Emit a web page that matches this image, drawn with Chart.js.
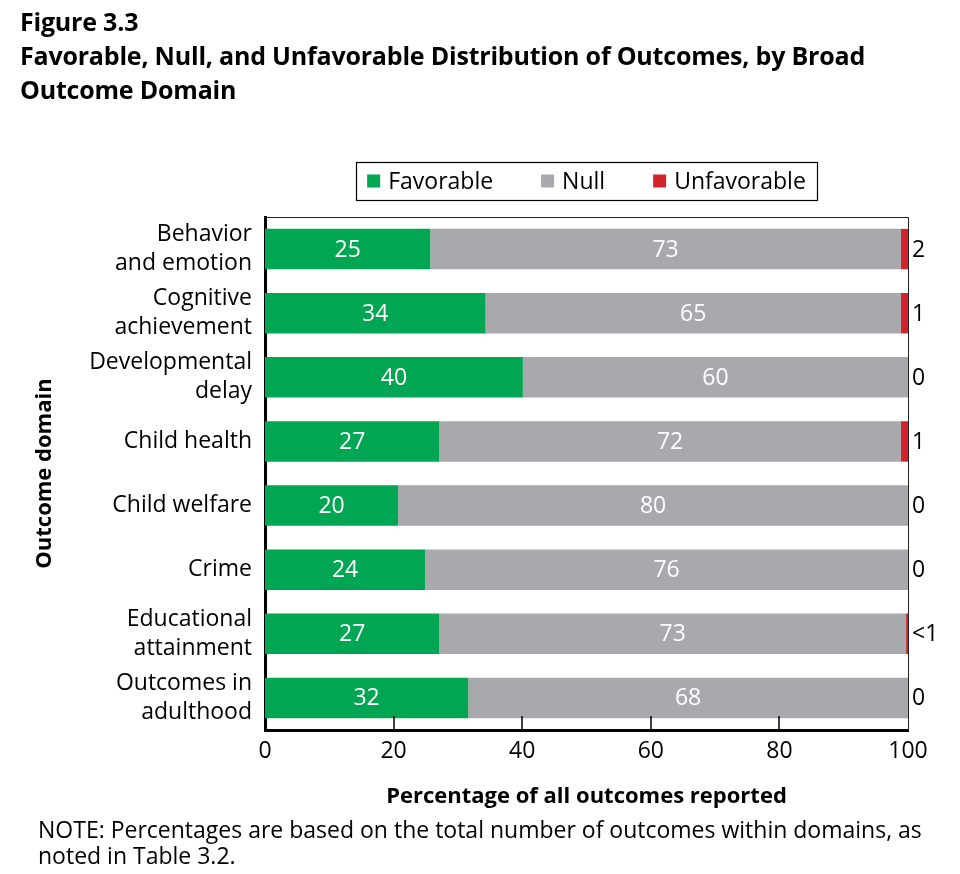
<!DOCTYPE html>
<html>
<head>
<meta charset="utf-8">
<script src="https://cdn.jsdelivr.net/npm/chart.js@4.4.1/dist/chart.umd.min.js"></script>
<style>
  body { margin: 0; background: #fff; font-family: "Open Sans", sans-serif; color: #000; }
  #wrap { position: relative; width: 960px; height: 874px; overflow: hidden; }
  #chart { position: absolute; left: 0; top: 0; }
  .title { position: absolute; left: 20px; top: 4px; font-weight: bold; font-size: 25px; line-height: 34px; letter-spacing: -0.2px; }
  .note { position: absolute; left: 38px; top: 816px; font-size: 23px; line-height: 26px; }
</style>
</head>
<body>
<div id="wrap">
  <canvas id="chart" width="960" height="874"></canvas>
  <div class="title">Figure 3.3<br>Favorable, Null, and Unfavorable Distribution of Outcomes, by Broad<br>Outcome Domain</div>
  <div class="note">NOTE: Percentages are based on the total number of outcomes within domains, as<br>noted in Table 3.2.</div>
</div>
<script>
const domains = [
  ["Behavior", "and emotion"],
  ["Cognitive", "achievement"],
  ["Developmental", "delay"],
  "Child health",
  "Child welfare",
  "Crime",
  ["Educational", "attainment"],
  ["Outcomes in", "adulthood"]
];
const favorable = [25.7, 34.3, 40.1, 27.1, 20.7, 24.9, 27.1, 31.6];
const nullShare = [73.2, 64.6, 59.9, 71.8, 79.3, 75.1, 72.6, 68.4];
const unfavorable = [1.1, 1.1, 0, 1.1, 0, 0, 0.3, 0];
const favorableLabels = ["25", "34", "40", "27", "20", "24", "27", "32"];
const nullLabels = ["73", "65", "60", "72", "80", "76", "73", "68"];
const unfavorableLabels = ["2", "1", "0", "1", "0", "0", "<1", "0"];
const xTickValues = [0, 20, 40, 60, 80, 100];

const FONT = '"Open Sans", sans-serif';
const GREEN = "#00a651";
const GRAY = "#a7a9ac";
const RED = "#d2232a";

// value labels: white inside the bars, black beside the plot for unfavorable
const valueLabels = {
  id: "valueLabels",
  afterDatasetsDraw(chart) {
    const { ctx, chartArea } = chart;
    ctx.save();
    ctx.font = `23px ${FONT}`;
    ctx.textBaseline = "middle";
    [favorableLabels, nullLabels].forEach((labels, d) => {
      chart.getDatasetMeta(d).data.forEach((bar, i) => {
        ctx.fillStyle = "#fff";
        ctx.textAlign = "center";
        ctx.fillText(labels[i], (bar.x + bar.base) / 2, bar.y + 1);
      });
    });
    chart.getDatasetMeta(2).data.forEach((bar, i) => {
      ctx.fillStyle = "#000";
      ctx.textAlign = "left";
      ctx.fillText(unfavorableLabels[i], chartArea.right + 4, bar.y + 1);
    });

    // frame top/right and inner tick marks
    ctx.strokeStyle = "#222";
    ctx.lineWidth = 1;
    ctx.beginPath();
    ctx.moveTo(chartArea.left, chartArea.top + 0.5);
    ctx.lineTo(chartArea.right + 0.5, chartArea.top + 0.5);
    ctx.lineTo(chartArea.right + 0.5, chartArea.bottom);
    ctx.stroke();
    const xs = chart.scales.x;
    ctx.lineWidth = 1.5;
    ctx.strokeStyle = "#000";
    xTickValues.slice(1, -1).forEach(v => {
      const px = Math.round(xs.getPixelForValue(v));
      ctx.beginPath();
      ctx.moveTo(px, chartArea.bottom);
      ctx.lineTo(px, chartArea.bottom - 14);
      ctx.stroke();
    });
    ctx.restore();
  }
};

// boxed legend centred over the plot
const boxLegend = {
  id: "boxLegend",
  afterDraw(chart) {
    const { ctx, chartArea } = chart;
    ctx.save();
    ctx.font = `23px ${FONT}`;
    const items = chart.data.datasets.map(ds => ({
      text: ds.label, color: ds.backgroundColor, w: ctx.measureText(ds.label).width
    }));
    const sq = 13, gap = 8, spacing = 48, pad = 11;
    const total = items.reduce((s, it) => s + sq + gap + it.w, 0) + spacing * (items.length - 1);
    let x = (chartArea.left + chartArea.right) / 2 - total / 2;
    const bottom = chartArea.top - 17, top = bottom - 38, cy = (top + bottom) / 2;
    ctx.strokeStyle = "#000";
    ctx.lineWidth = 1.2;
    ctx.strokeRect(Math.round(x - pad) + 0.5, top + 0.5, Math.round(total + 2 * pad), 38);
    ctx.textBaseline = "middle";
    ctx.textAlign = "left";
    items.forEach(it => {
      ctx.fillStyle = it.color;
      ctx.fillRect(x, cy - sq / 2, sq, sq);
      ctx.fillStyle = "#000";
      ctx.fillText(it.text, x + sq + gap, cy + 1);
      x += sq + gap + it.w + spacing;
    });
    ctx.restore();
  }
};

new Chart(document.getElementById("chart"), {
  type: "bar",
  data: {
    labels: domains,
    datasets: [
      { label: "Favorable", data: favorable, backgroundColor: GREEN },
      { label: "Null", data: nullShare, backgroundColor: GRAY },
      { label: "Unfavorable", data: unfavorable, backgroundColor: RED }
    ]
  },
  options: {
    indexAxis: "y",
    responsive: false,
    animation: false,
    layout: { padding: { top: 217, right: 52, bottom: 54, left: 0 } },
    datasets: { bar: { barPercentage: 0.63, categoryPercentage: 1, borderWidth: 0 } },
    plugins: { legend: { display: false }, tooltip: { enabled: false } },
    scales: {
      x: {
        stacked: true,
        min: 0,
        max: 100,
        z: 1,
        afterFit: s => { s.height = 90; },
        afterBuildTicks: s => { s.ticks = xTickValues.map(v => ({ value: v })); },
        grid: { display: false, drawTicks: false },
        border: { display: true, color: "#000", width: 3 },
        ticks: { color: "#000", padding: 8, font: { family: FONT, size: 23 } },
        title: {
          display: true,
          text: "Percentage of all outcomes reported",
          color: "#000",
          padding: { top: 0, bottom: 10 },
          font: { family: FONT, size: 22, weight: "bold" }
        }
      },
      y: {
        stacked: true,
        z: 1,
        afterFit: s => { s.width = 265; },
        grid: { display: false, drawTicks: false },
        border: { display: true, color: "#000", width: 3 },
        ticks: { color: "#000", padding: 13, font: { family: FONT, size: 23, lineHeight: 1.26 } },
        title: {
          display: true,
          text: "Outcome domain",
          color: "#000",
          padding: { top: 32, bottom: 0 },
          font: { family: FONT, size: 22, weight: "bold" }
        }
      }
    }
  },
  plugins: [valueLabels, boxLegend]
});
</script>
</body>
</html>
